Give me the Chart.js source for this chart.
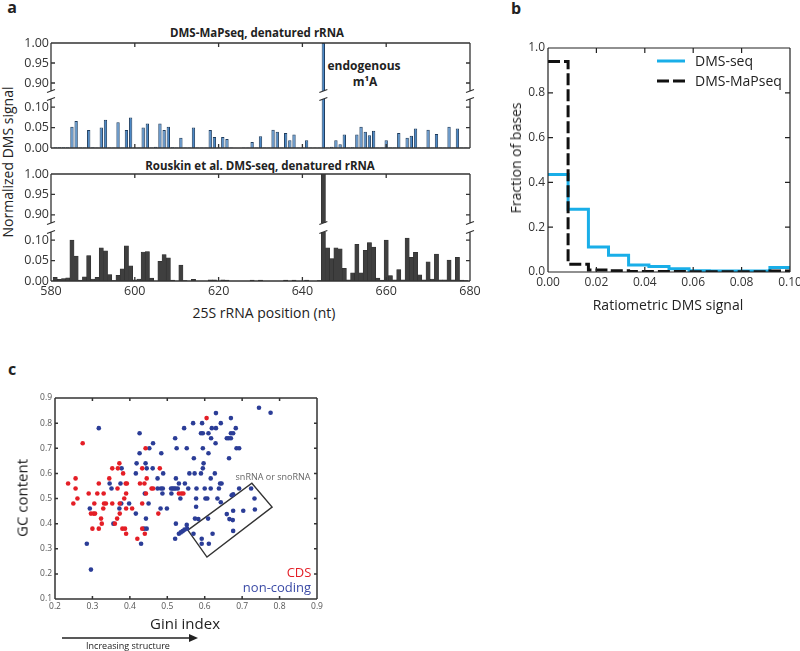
<!DOCTYPE html>
<html>
<head>
<meta charset="utf-8">
<title>DMS-MaPseq figure</title>
<script src="https://cdn.jsdelivr.net/npm/chart.js@4.4.1/dist/chart.umd.min.js"></script>
<style>
  body { margin: 0; width: 800px; height: 651px; position: relative; overflow: hidden; background: #fff;
         font-family: 'Open Sans', sans-serif; color: #222; }
  canvas, svg, .t { position: absolute; }
  .t { white-space: nowrap; line-height: 1; transform: translate(-50%, -50%); }
  .l { transform: translate(0, -50%); }
  .v { transform: translate(-50%, -50%) rotate(-90deg); }
  .b { font-weight: 700; }
</style>
</head>
<body>
<!-- panel letters -->
<div class="t b" style="left:12px;top:7px;font-size:16px">a</div>
<div class="t b" style="left:516px;top:8px;font-size:16px">b</div>
<div class="t b" style="left:12px;top:369px;font-size:16px">c</div>

<!-- panel a -->
<div class="t b" style="left:257px;top:33px;font-size:11.5px">DMS-MaPseq, denatured rRNA</div>
<div class="t b" style="left:260px;top:166px;font-size:11.5px">Rouskin et al. DMS-seq, denatured rRNA</div>
<div class="t b" style="left:364px;top:66px;font-size:12px">endogenous</div>
<div class="t b" style="left:365px;top:82px;font-size:12px">m¹A</div>
<div class="t v" style="left:8px;top:162px;font-size:14px">Normalized DMS signal</div>
<div class="t" style="left:264px;top:313px;font-size:14px">25S rRNA position (nt)</div>
<canvas id="aTopHi" width="490" height="66" style="left:0;top:30px"></canvas>
<canvas id="aTopLo" width="490" height="62" style="left:0;top:94px"></canvas>
<canvas id="aBotHi" width="490" height="68" style="left:0;top:160px"></canvas>
<canvas id="aBotLo" width="490" height="72" style="left:0;top:227px"></canvas>

<!-- panel b -->
<canvas id="histo" width="290" height="260" style="left:510px;top:38px"></canvas>
<div class="t v" style="left:516px;top:158px;font-size:14px">Fraction of bases</div>
<div class="t" style="left:668px;top:305px;font-size:14px">Ratiometric DMS signal</div>
<svg style="left:655px;top:52px" width="34" height="36">
  <line x1="2" y1="9" x2="30" y2="9" stroke="#19aee8" stroke-width="3"/>
  <line x1="2" y1="29" x2="30" y2="29" stroke="#111" stroke-width="3" stroke-dasharray="12 4"/>
</svg>
<div class="t l" style="left:695px;top:61px;font-size:14px">DMS-seq</div>
<div class="t l" style="left:695px;top:81px;font-size:14px">DMS-MaPseq</div>

<!-- panel c -->
<canvas id="gini" width="330" height="230" style="left:0;top:385px"></canvas>
<div class="t v" style="left:22px;top:498px;font-size:15px">GC content</div>
<div class="t" style="left:185px;top:623px;font-size:15px">Gini index</div>
<div class="t" style="left:273px;top:476px;font-size:9px;color:#666">snRNA or snoRNA</div>
<div class="t" style="left:299px;top:572px;font-size:13px;color:#e41e26">CDS</div>
<div class="t" style="left:277px;top:587px;font-size:13px;color:#3b4ba6">non-coding</div>
<svg style="left:58px;top:630px" width="145" height="16">
  <line x1="4" y1="8" x2="132" y2="8" stroke="#222" stroke-width="1.3"/>
  <polygon points="131,4 140,8 131,12" fill="#222"/>
</svg>
<div class="t" style="left:128px;top:645px;font-size:9px">Increasing structure</div>

<script>
// ---- panel a: normalized DMS signal along 25S rRNA, positions 580..680 ----
const firstPosition = 580;
const mapseqSignal = [
  0, 0.002, 0.002, 0.002, 0.002, 0.052, 0.066, 0.001, 0.001, 0.044,
  0.002, 0.001, 0.050, 0.069, 0.001, 0.001, 0.063, 0.001, 0.044, 0.075,
  0.001, 0.001, 0.050, 0.060, 0.001, 0.003, 0.060, 0.044, 0.052, 0.002,
  0.001, 0.025, 0.001, 0.001, 0.050, 0.001, 0.001, 0.001, 0.044, 0.027,
  0.001, 0.027, 0.022, 0.001, 0, 0, 0.001, 0.001, 0.015, 0.001,
  0.029, 0.001, 0.001, 0.045, 0.040, 0.001, 0.037, 0.019, 0.033, 0.001,
  0.001, 0.019, 0.001, 0.001, 0.001, 1.0, 0.001, 0.003, 0.019, 0.009,
  0.033, 0.001, 0.002, 0.033, 0.052, 0.040, 0.031, 0.042, 0.001, 0.001,
  0.019, 0.001, 0.001, 0.037, 0.001, 0.025, 0.030, 0.048, 0.001, 0.001,
  0.045, 0.001, 0.034, 0.001, 0.001, 0.052, 0.001, 0.048, 0.001, 0.001,
  0
];
const rouskinSignal = [
  0, 0.009, 0.004, 0.006, 0.008, 0.100, 0.061, 0.002, 0.010, 0.062,
  0.005, 0.009, 0.081, 0.074, 0.016, 0.001, 0.014, 0.030, 0.086, 0.037,
  0.003, 0.005, 0.071, 0.072, 0.007, 0, 0.048, 0.065, 0.057, 0.002,
  0, 0.039, 0.001, 0, 0.004, 0, 0, 0, 0.003, 0.003,
  0, 0.003, 0.002, 0, 0, 0, 0, 0, 0.002, 0,
  0.002, 0, 0, 0, 0, 0, 0.002, 0, 0.002, 0,
  0, 0.002, 0, 0, 0.001, 1.0, 0.081, 0.055, 0.081, 0.079,
  0.031, 0.003, 0.020, 0.090, 0.020, 0.075, 0.094, 0.083, 0.007, 0.002,
  0.100, 0.013, 0.003, 0.028, 0.003, 0.105, 0.058, 0.070, 0.015, 0.003,
  0.047, 0.005, 0.066, 0.003, 0.003, 0.051, 0.003, 0.058, 0.002, 0.001,
  0
];
const positionTicks = [580, 600, 620, 640, 660, 680];
const upperTicks = [0.90, 0.95, 1.00];
const lowerTicks = [0.00, 0.05, 0.10];
const m1aPosition = 645;

// ---- panel b: histogram of ratiometric DMS signal ----
const binEdges = [0, 0.0083, 0.0167, 0.025, 0.0333, 0.0417, 0.05, 0.0583, 0.0667, 0.075, 0.0833, 0.0917, 0.1];
const dmsSeqFraction = [0.435, 0.28, 0.112, 0.075, 0.031, 0.024, 0.015, 0.006, 0.005, 0.005, 0.005, 0.02];
const mapseqFraction = [0.94, 0.035, 0.009, 0.006, 0.002, 0.002, 0.002, 0.001, 0.001, 0.001, 0.001, 0.004];

// ---- panel c: Gini index vs GC content ----
const cdsGini = [0.235,0.255,0.255,0.26,0.249,0.274,0.29,0.305,0.296,0.303,0.307,0.30,0.317,0.313,0.317,0.323,0.325,0.329,0.331,0.336,
  0.33,0.345,0.353,0.353,0.36,0.366,0.368,0.367,0.372,0.373,0.373,0.382,0.385,0.389,0.392,0.39,0.39,0.38,0.387,0.39,
  0.406,0.42,0.427,0.433,0.433,0.433,0.439,0.44,0.442,0.445,0.443,0.458,0.462,0.48,0.476,0.531,0.538,0.543,0.605];
const cdsGC = [0.56,0.58,0.54,0.50,0.48,0.72,0.52,0.48,0.44,0.44,0.44,0.38,0.56,0.52,0.38,0.42,0.40,0.46,0.48,0.48,
  0.52,0.58,0.62,0.48,0.40,0.42,0.62,0.54,0.64,0.48,0.44,0.60,0.50,0.56,0.56,0.52,0.46,0.38,0.38,0.36,
  0.46,0.34,0.56,0.62,0.48,0.38,0.56,0.36,0.70,0.58,0.52,0.54,0.54,0.62,0.44,0.52,0.52,0.52,0.82];
const ncGini = [0.317,0.285,0.296,0.293,0.346,0.351,0.356,0.378,0.375,0.377, 0.372,0.398,0.416,0.418,0.426,0.426,0.416,0.43,0.44,0.442,
  0.445,0.443,0.438,0.445,0.45,0.452,0.462,0.461,0.484,0.489, 0.474,0.474,0.483,0.488,0.487,0.482,0.499,0.51,0.514,0.518,
  0.522,0.528,0.511,0.523,0.521,0.525,0.531,0.535,0.523,0.521, 0.531,0.536,0.541,0.546,0.553,0.545,0.552,0.547,0.552,0.556,
  0.559,0.569,0.571,0.573,0.57,0.578,0.577,0.577,0.574,0.583, 0.59,0.593,0.59,0.595,0.595,0.597,0.595,0.592,0.592,0.602,
  0.607,0.61,0.61,0.609,0.611,0.617,0.616,0.616,0.619,0.621, 0.63,0.63,0.629,0.627,0.634,0.641,0.645,0.638,0.643,0.643,
  0.659,0.664,0.67,0.665,0.67,0.67,0.676,0.683,0.685,0.692, 0.659,0.666,0.675,0.672,0.676,0.676,0.676,0.692,0.703,0.724,
  0.733,0.734,0.745,0.776,0.60];
const ncGC = [0.78,0.32,0.217,0.46,0.56,0.54,0.40,0.62,0.56,0.48, 0.46,0.48,0.60,0.64,0.76,0.68,0.44,0.32,0.52,0.64,
  0.62,0.42,0.38,0.38,0.48,0.70,0.72,0.62,0.68,0.60, 0.58,0.54,0.54,0.54,0.52,0.46,0.46,0.54,0.54,0.54,
  0.54,0.54,0.52,0.58,0.74,0.70,0.56,0.50,0.40,0.34, 0.36,0.365,0.37,0.376,0.38,0.78,0.70,0.56,0.395,0.54,
  0.60,0.80,0.66,0.60,0.36,0.54,0.50,0.467,0.42,0.418, 0.60,0.80,0.76,0.76,0.70,0.64,0.62,0.34,0.32,0.50,
  0.50,0.76,0.68,0.42,0.32,0.74,0.58,0.54,0.78,0.36, 0.78,0.84,0.72,0.60,0.50,0.56,0.56,0.54,0.80,0.485,
  0.74,0.74,0.74,0.66,0.82,0.76,0.76,0.78,0.70,0.70, 0.438,0.418,0.414,0.513,0.517,0.451,0.371,0.54,0.451,0.54,
  0.50,0.456,0.861,0.841,0.54];
// snRNA / snoRNA outline (corners in data units)
const boxGini = [0.555, 0.726, 0.78, 0.606, 0.555];
const boxGC = [0.374, 0.561, 0.466, 0.267, 0.374];

Chart.defaults.font.family = "'Open Sans', sans-serif";
Chart.defaults.color = '#333';

// box, inward ticks on every side and the axis-break marks
const framePlugin = {
  id: 'frame',
  afterDatasetsDraw(chart, args, o) {
    const { ctx, chartArea: a } = chart;
    const { x, y } = chart.scales;
    const L = o.tick;
    ctx.save();
    ctx.strokeStyle = o.color;
    ctx.lineWidth = o.width;
    ctx.beginPath();
    ctx.moveTo(a.left, a.top); ctx.lineTo(a.left, a.bottom);
    ctx.moveTo(a.right, a.top); ctx.lineTo(a.right, a.bottom);
    if (o.top) { ctx.moveTo(a.left, a.top); ctx.lineTo(a.right, a.top); }
    if (o.bottom) { ctx.moveTo(a.left, a.bottom); ctx.lineTo(a.right, a.bottom); }
    y.ticks.forEach(t => {
      const py = y.getPixelForValue(t.value);
      ctx.moveTo(a.left, py); ctx.lineTo(a.left + L, py);
      ctx.moveTo(a.right, py); ctx.lineTo(a.right - L, py);
    });
    x.ticks.forEach(t => {
      const px = x.getPixelForValue(t.value);
      if (o.top) { ctx.moveTo(px, a.top); ctx.lineTo(px, a.top + L); }
      if (o.bottom) { ctx.moveTo(px, a.bottom); ctx.lineTo(px, a.bottom - L); }
    });
    if (o.breakAt) {
      const by = o.breakAt === 'top' ? a.top : a.bottom;
      const xs = [a.left, a.right].concat((o.breakX || []).map(v => x.getPixelForValue(v)));
      xs.forEach(bx => { ctx.moveTo(bx - 4, by + 1.5); ctx.lineTo(bx + 4, by - 1.5); });
    }
    ctx.stroke();
    ctx.restore();
  }
};

const noGrid = { display: false, drawTicks: false };
const blueBars = { fill: '#4b88c6', edge: '#1f3d5e', edgeWidth: 1, barPct: 0.8 };
const greyBars = { fill: '#3f3f3f', edge: '#2b2b2b', edgeWidth: 0.5, barPct: 1 };

function signalChart(id, values, look, seg) {
  return new Chart(document.getElementById(id), {
    type: 'bar',
    data: {
      datasets: [{
        data: values.map((v, i) => ({ x: firstPosition + i, y: v })),
        backgroundColor: look.fill,
        borderColor: look.edge,
        borderWidth: look.edgeWidth,
        barPercentage: look.barPct,
        categoryPercentage: 1,
        clip: 0
      }]
    },
    options: {
      responsive: false, animation: false, devicePixelRatio: 1,
      layout: { padding: { top: seg.padTop, bottom: seg.padBottom, left: 0, right: 20 } },
      plugins: {
        legend: { display: false }, tooltip: { enabled: false },
        frame: { color: '#333', width: 1.3, tick: 4, top: seg.upper, bottom: !seg.upper,
                 breakAt: seg.upper ? 'bottom' : 'top', breakX: [m1aPosition] }
      },
      scales: {
        x: {
          type: 'linear', min: 580, max: 680, offset: false,
          grid: noGrid, border: { display: false },
          afterBuildTicks: s => { s.ticks = positionTicks.map(v => ({ value: v })); },
          ticks: { display: seg.labels, padding: 3, font: { size: 12.5 }, color: '#333' },
          afterFit: s => { s.height = seg.xHeight; s.paddingLeft = 0; s.paddingRight = 0; }
        },
        y: {
          min: seg.min, max: seg.max,
          grid: noGrid, border: { display: false },
          afterBuildTicks: s => { s.ticks = seg.ticks.map(v => ({ value: v })); },
          ticks: { callback: v => v.toFixed(2), padding: 2, font: { size: 12.5 }, color: '#333' },
          afterFit: s => { s.width = 51; s.paddingTop = 0; s.paddingBottom = 0; }
        }
      }
    },
    plugins: [framePlugin]
  });
}

signalChart('aTopHi', mapseqSignal, blueBars, { min: 0.88, max: 1.0, ticks: upperTicks, padTop: 13, padBottom: 5, xHeight: 0, labels: false, upper: true });
signalChart('aTopLo', mapseqSignal, blueBars, { min: 0, max: 0.12, ticks: lowerTicks, padTop: 5, padBottom: 8, xHeight: 0, labels: false, upper: false });
signalChart('aBotHi', rouskinSignal, greyBars, { min: 0.88, max: 1.0, ticks: upperTicks, padTop: 14, padBottom: 5, xHeight: 0, labels: false, upper: true });
signalChart('aBotLo', rouskinSignal, greyBars, { min: 0, max: 0.12, ticks: lowerTicks, padTop: 5, padBottom: 0, xHeight: 18, labels: true, upper: false });

// ---- panel b ----
function stepPoints(fractions) {
  const pts = fractions.map((f, i) => ({ x: binEdges[i], y: f }));
  pts.push({ x: binEdges[binEdges.length - 1], y: fractions[fractions.length - 1] });
  return pts;
}

new Chart(document.getElementById('histo'), {
  type: 'line',
  data: {
    datasets: [
      { label: 'DMS-seq', data: stepPoints(dmsSeqFraction), borderColor: '#19aee8', borderWidth: 3,
        stepped: 'before', pointRadius: 0, fill: false, order: 2 },
      { label: 'DMS-MaPseq', data: stepPoints(mapseqFraction), borderColor: '#111', borderWidth: 3,
        borderDash: [12, 4], stepped: 'before', pointRadius: 0, fill: false, order: 1 }
    ]
  },
  options: {
    responsive: false, animation: false, devicePixelRatio: 1,
    layout: { padding: { top: 10, right: 10, left: 0, bottom: 0 } },
    plugins: {
      legend: { display: false }, tooltip: { enabled: false },
      frame: { color: '#222', width: 1.2, tick: 5, top: true, bottom: true }
    },
    scales: {
      x: {
        type: 'linear', min: 0, max: 0.1,
        grid: noGrid, border: { display: false },
        ticks: { stepSize: 0.02, callback: v => v.toFixed(2), padding: 3, font: { size: 12 }, maxRotation: 0 },
        afterFit: s => { s.height = 26; s.paddingLeft = 0; s.paddingRight = 0; }
      },
      y: {
        min: 0, max: 1,
        grid: noGrid, border: { display: false },
        ticks: { stepSize: 0.2, callback: v => v.toFixed(1), padding: 3, font: { size: 12 } },
        afterFit: s => { s.width = 38; s.paddingTop = 0; s.paddingBottom = 0; }
      }
    }
  },
  plugins: [framePlugin]
});

// ---- panel c ----
new Chart(document.getElementById('gini'), {
  type: 'scatter',
  data: {
    datasets: [
      { label: 'CDS', data: cdsGini.map((g, i) => ({ x: g, y: cdsGC[i] })),
        backgroundColor: '#e41e26', pointRadius: 2.3, pointBorderWidth: 0 },
      { label: 'non-coding', data: ncGini.map((g, i) => ({ x: g, y: ncGC[i] })),
        backgroundColor: '#2b3d97', pointRadius: 2.3, pointBorderWidth: 0 },
      { label: 'snRNA or snoRNA', data: boxGini.map((g, i) => ({ x: g, y: boxGC[i] })),
        showLine: true, pointRadius: 0, borderColor: '#333', borderWidth: 1.4, fill: false }
    ]
  },
  options: {
    responsive: false, animation: false, devicePixelRatio: 1,
    layout: { padding: { top: 13, right: 13, left: 0, bottom: 0 } },
    plugins: {
      legend: { display: false }, tooltip: { enabled: false },
      frame: { color: '#333', width: 1.5, tick: 3, top: true, bottom: true }
    },
    scales: {
      x: {
        type: 'linear', min: 0.2, max: 0.9,
        grid: noGrid, border: { display: false },
        ticks: { stepSize: 0.1, callback: v => v.toFixed(1), padding: 2, font: { size: 8.5 }, color: '#555', maxRotation: 0 },
        afterFit: s => { s.height = 16; s.paddingLeft = 0; s.paddingRight = 0; }
      },
      y: {
        min: 0.1, max: 0.9,
        grid: noGrid, border: { display: false },
        ticks: { stepSize: 0.1, callback: v => v.toFixed(1), padding: 3, font: { size: 8.5 }, color: '#555' },
        afterFit: s => { s.width = 55; s.paddingTop = 0; s.paddingBottom = 0; }
      }
    }
  },
  plugins: [framePlugin]
});
</script>
</body>
</html>
